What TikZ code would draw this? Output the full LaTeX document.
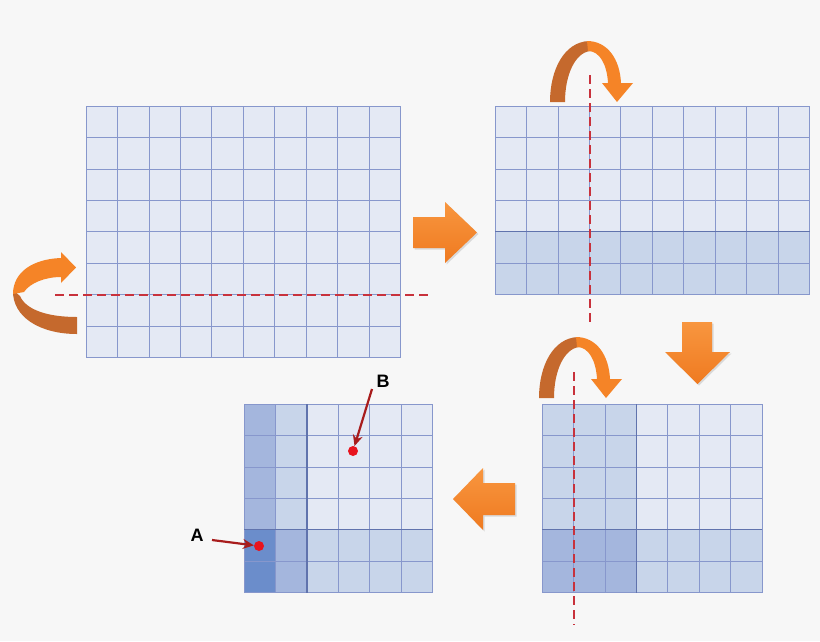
\documentclass[tikz,border=0pt]{standalone}
\usepackage{fontspec}
\setmainfont{Liberation Sans}
\usetikzlibrary{arrows.meta,shadows}
\definecolor{bg}{HTML}{F7F7F7}
\definecolor{cellL}{HTML}{E4E9F4}
\definecolor{cellLM}{HTML}{C8D5EA}
\definecolor{cellM}{HTML}{A4B6DD}
\definecolor{cellD}{HTML}{6B8DCB}
\definecolor{gridline}{HTML}{8797CC}
\definecolor{foldline}{HTML}{6073AD}
\definecolor{org}{HTML}{F58427}
\definecolor{orgL}{HTML}{F8963F}
\definecolor{orgB}{HTML}{EF7A20}
\definecolor{orgD}{HTML}{C5692D}
\definecolor{cutred}{HTML}{C8323C}
\definecolor{ptred}{HTML}{E8141E}
\definecolor{arrred}{HTML}{A81C1C}
\def\s{31.45}
\newcommand\mygrid[4]{%
  \foreach \i in {0,...,#3} \draw[gridl] ({#1+\i*\s},#2) -- ++(0,{#4*\s});
  \foreach \j in {0,...,#4} \draw[gridl] (#1,{#2+\j*\s}) -- ++({#3*\s},0);}
\newcommand\archarrow{%
  \fill[orgD] (550,102) .. controls (550,70) and (564,42) .. (589,41) -- (590,51) .. controls (575,53) and (565,75) .. (565,102) -- cycle;
  \fill[org] (587,41) .. controls (608,41) and (620,60) .. (621,83) -- (633,83) -- (617,102) -- (602,83) -- (608,83) .. controls (607,65) and (600,51) .. (588,51) -- cycle;}
\begin{document}
\begin{tikzpicture}[x=1pt,y=-1pt,
  gridl/.style={draw=gridline,line width=0.8pt},
  foldl/.style={draw=foldline,line width=1.2pt},
  cut/.style={draw=cutred,line width=2pt,dash pattern=on 9pt off 5pt},
  blockarrow/.style={top color=orgL,bottom color=orgB,drop shadow={opacity=0.25,shadow xshift=1.5pt,shadow yshift=-1.5pt}},
  lbl/.style={font=\fontsize{18}{20}\selectfont\bfseries,inner sep=1pt},
  dot/.style={circle,fill=ptred,inner sep=0pt,minimum size=10pt},
  ptr/.style={draw=arrred,line width=2.2pt,-{Stealth[length=11pt,width=10pt]}}]
\useasboundingbox (0,0) rectangle (820,641);
\fill[bg] (0,0) rectangle (820,641);
% grid 1
\fill[cellL] (86,106) rectangle ++({10*\s},{8*\s});
\mygrid{86}{106}{10}{8}
% grid 2
\fill[cellL] (495,106) rectangle ++({10*\s},{4*\s});
\fill[cellLM] (495,{106+4*\s}) rectangle ++({10*\s},{2*\s});
\mygrid{495}{106}{10}{6}
\draw[foldl] (495,{106+4*\s}) -- ++({10*\s},0);
% grid 3
\fill[cellL] (542,404) rectangle ++({7*\s},{6*\s});
\fill[cellLM] (542,404) rectangle ++({3*\s},{4*\s});
\fill[cellLM] ({542+3*\s},{404+4*\s}) rectangle ++({4*\s},{2*\s});
\fill[cellM] (542,{404+4*\s}) rectangle ++({3*\s},{2*\s});
\mygrid{542}{404}{7}{6}
\draw[foldl] (542,{404+4*\s}) -- ++({7*\s},0);
\draw[foldl] ({542+3*\s},404) -- ++(0,{6*\s});
% grid 4
\fill[cellL] (244,404) rectangle ++({6*\s},{6*\s});
\fill[cellLM] ({244+2*\s},{404+4*\s}) rectangle ++({4*\s},{2*\s});
\fill[cellLM] ({244+\s},404) rectangle ++(\s,{4*\s});
\fill[cellM] ({244+\s},{404+4*\s}) rectangle ++(\s,{2*\s});
\fill[cellM] (244,404) rectangle ++(\s,{4*\s});
\fill[cellD] (244,{404+4*\s}) rectangle ++(\s,{2*\s});
\mygrid{244}{404}{6}{6}
\draw[foldl] (244,{404+4*\s}) -- ++({6*\s},0);
\draw[foldl] ({244+2*\s},404) -- ++(0,{6*\s});
% cut lines
\draw[cut] (55,{106+6*\s}) -- (432,{106+6*\s});
\draw[cut] (589.8,75) -- (589.8,325);
\draw[cut] (573.8,372) -- (573.8,625);
% block arrows
\path[blockarrow] (413,217) -- (445,217) -- (445,202) -- (477,232.5) -- (445,263) -- (445,248) -- (413,248) -- cycle;
\path[blockarrow] (682,322) -- (712,322) -- (712,352) -- (730,352) -- (697.5,384) -- (665,352) -- (682,352) -- cycle;
\path[blockarrow] (515,483) -- (483,483) -- (483,468) -- (453,499) -- (483,530) -- (483,515) -- (515,515) -- cycle;
% left curved arrow
\fill[orgD] (13,290) .. controls (12,317) and (40,334) .. (77,334) -- (77,317) .. controls (48,317) and (26,310) .. (20,296) -- cycle;
\fill[org] (61,258) .. controls (33,259) and (13,272) .. (13,294) -- (24,292) .. controls (30,283) and (45,277) .. (61,277) -- (61,283) -- (76,267.5) -- (61,252) -- cycle;
% arch arrows
\archarrow
\begin{scope}[shift={(-11,296)}]
\archarrow
\end{scope}
% points
\node[lbl] (B) at (383,381) {B};
\node[dot] (pB) at (353,451) {};
\node[lbl] (A) at (197,535) {A};
\node[dot] (pA) at (259,546) {};
\coordinate (bs) at (372,389);
\coordinate (as) at (212,540);
\draw[ptr] (bs) -- (pB);
\draw[ptr] (as) -- (pA);
\end{tikzpicture}
\end{document}
